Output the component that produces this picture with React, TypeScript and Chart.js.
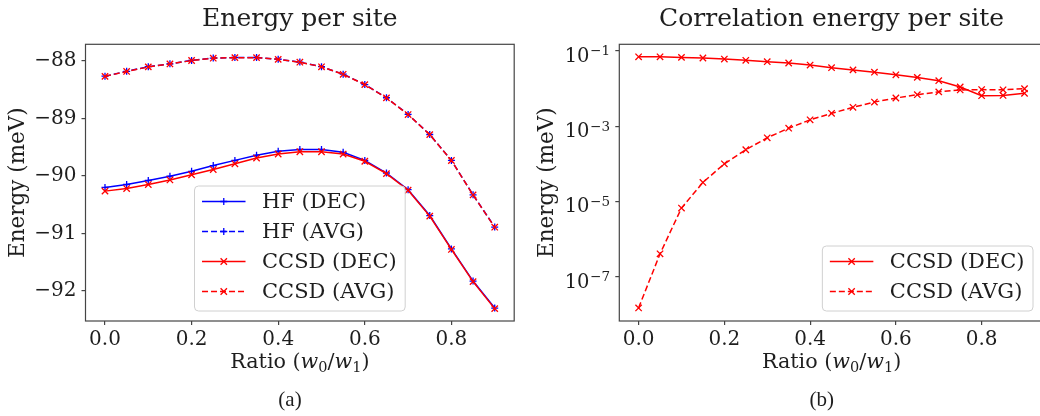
import React, { useEffect, useRef } from "react";
import { Chart, registerables } from "chart.js";

Chart.register(...registerables);

// ---------- data ----------
const ratios = [0, 0.05, 0.1, 0.15, 0.2, 0.25, 0.3, 0.35, 0.4, 0.45, 0.5, 0.55, 0.6, 0.65, 0.7, 0.75, 0.8, 0.85, 0.9];

const hfDec = [-90.2, -90.15, -90.08, -90.005, -89.92, -89.82, -89.73, -89.64, -89.57, -89.54, -89.54, -89.59, -89.73, -89.95, -90.24, -90.69, -91.27, -91.83, -92.3];
const hfAvg = [-88.265, -88.18, -88.1, -88.05, -87.99, -87.95, -87.94, -87.94, -87.97, -88.02, -88.1, -88.23, -88.41, -88.64, -88.93, -89.28, -89.73, -90.33, -90.89];
const ccsdDec = [-90.265, -90.22, -90.15, -90.07, -89.98, -89.89, -89.79, -89.69, -89.62, -89.58, -89.58, -89.62, -89.745, -89.96, -90.25, -90.7, -91.28, -91.84, -92.31];
const ccsdAvg = [-88.268, -88.183, -88.103, -88.052, -87.992, -87.952, -87.942, -87.942, -87.972, -88.022, -88.102, -88.232, -88.412, -88.642, -88.932, -89.282, -89.732, -90.332, -90.892];

const corrDec = [0.069, 0.069, 0.0665, 0.064, 0.06, 0.0556, 0.051, 0.0472, 0.0417, 0.0355, 0.031, 0.0269, 0.023, 0.0196, 0.016, 0.0109, 0.0064, 0.0065, 0.0074];
const corrAvg = [1.5e-8, 4.1e-7, 6.7e-6, 3.2e-5, 1.0e-4, 2.36e-4, 4.9e-4, 8.8e-4, 1.47e-3, 2.18e-3, 3.15e-3, 4.35e-3, 5.56e-3, 6.8e-3, 8.1e-3, 9.1e-3, 9.3e-3, 9.2e-3, 9.8e-3];

const xTicks = [0, 0.2, 0.4, 0.6, 0.8];
const leftYTicks = [-92, -91, -90, -89, -88];
const rightYTickExps = [-7, -5, -3, -1];

const leftTitle = "Energy per site";
const rightTitle = "Correlation energy per site";
const yTitle = "Energy (meV)";
const xTitleParts = [
  { t: "Ratio (", kind: "n" },
  { t: "w", kind: "i" },
  { t: "0", kind: "s" },
  { t: "/", kind: "n" },
  { t: "w", kind: "i" },
  { t: "1", kind: "s" },
  { t: ")", kind: "n" },
];
const captions = ["(a)", "(b)"];

// ---------- styles ----------
const SERIF = "'DejaVu Serif', serif";
const AXIS = "#454545";
const TEXT = "#1e1e1e";
const BLUE = "#0000ff";
const RED = "#ff0000";
const DASH = [6, 3];
const LEGEND_FONT = 21;

function drawXTitle(ctx: CanvasRenderingContext2D, cx: number, baseline: number) {
  const big = 20.7;
  const small = 14.5;
  const fontOf = (k: string) =>
    k === "i" ? `italic ${big}px ${SERIF}` : k === "s" ? `${small}px ${SERIF}` : `${big}px ${SERIF}`;
  let total = 0;
  const widths = xTitleParts.map((p) => {
    ctx.font = fontOf(p.kind);
    const w = ctx.measureText(p.t).width;
    total += w;
    return w;
  });
  let x = cx - total / 2;
  ctx.textAlign = "left";
  ctx.textBaseline = "alphabetic";
  ctx.fillStyle = TEXT;
  xTitleParts.forEach((p, i) => {
    ctx.font = fontOf(p.kind);
    ctx.fillText(p.t, x, baseline + (p.kind === "s" ? 4 : 0));
    x += widths[i];
  });
}

function drawMarker(ctx: CanvasRenderingContext2D, style: string, x: number, y: number, r: number) {
  ctx.beginPath();
  if (style === "cross") {
    ctx.moveTo(x - r, y);
    ctx.lineTo(x + r, y);
    ctx.moveTo(x, y - r);
    ctx.lineTo(x, y + r);
  } else {
    const d = r * Math.SQRT1_2;
    ctx.moveTo(x - d, y - d);
    ctx.lineTo(x + d, y + d);
    ctx.moveTo(x - d, y + d);
    ctx.lineTo(x + d, y - d);
  }
  ctx.stroke();
}

const decorPlugin = {
  id: "decor",
  afterDraw(chart: any, _args: any, opts: any) {
    const ctx: CanvasRenderingContext2D = chart.ctx;
    const ca = chart.chartArea;
    const cx = (ca.left + ca.right) / 2;
    ctx.save();
    // frame
    ctx.strokeStyle = AXIS;
    ctx.lineWidth = 1.2;
    ctx.setLineDash([]);
    ctx.strokeRect(ca.left, ca.top, ca.right - ca.left, ca.bottom - ca.top);
    // title
    ctx.fillStyle = TEXT;
    ctx.font = `25px ${SERIF}`;
    ctx.textAlign = "center";
    ctx.textBaseline = "alphabetic";
    ctx.fillText(opts.title, cx, 26);
    // x title
    drawXTitle(ctx, cx, 367.5);
    // log tick labels
    if (opts.logTicks) {
      const ys = chart.scales.y;
      const xr = ca.left - 9.3;
      ctx.fillStyle = TEXT;
      ctx.textBaseline = "alphabetic";
      ctx.textAlign = "right";
      rightYTickExps.forEach((e) => {
        const y = ys.getPixelForValue(Math.pow(10, e));
        const sup = "\u2212" + String(Math.abs(e));
        ctx.font = `13.5px ${SERIF}`;
        const ws = ctx.measureText(sup).width;
        ctx.fillText(sup, xr, y + 4.5);
        ctx.font = `19.5px ${SERIF}`;
        ctx.fillText("10", xr - ws - 0.6, y + 11);
      });
    }
    // legend
    const ds = chart.data.datasets;
    ctx.font = `${LEGEND_FONT}px ${SERIF}`;
    let maxW = 0;
    ds.forEach((d: any) => {
      maxW = Math.max(maxW, ctx.measureText(d.label).width);
    });
    const bw = 67.5 + maxW + 8.5;
    const bh = ds.length * 30 + 5;
    const bottom = ca.bottom - 10;
    const top = bottom - bh;
    const left = opts.legendPos === "lowerRight" ? ca.right - 10.8 - bw : cx - bw / 2;
    ctx.beginPath();
    const rr = 4;
    ctx.moveTo(left + rr, top);
    ctx.lineTo(left + bw - rr, top);
    ctx.quadraticCurveTo(left + bw, top, left + bw, top + rr);
    ctx.lineTo(left + bw, top + bh - rr);
    ctx.quadraticCurveTo(left + bw, top + bh, left + bw - rr, top + bh);
    ctx.lineTo(left + rr, top + bh);
    ctx.quadraticCurveTo(left, top + bh, left, top + bh - rr);
    ctx.lineTo(left, top + rr);
    ctx.quadraticCurveTo(left, top, left + rr, top);
    ctx.closePath();
    ctx.fillStyle = "rgba(255,255,255,0.8)";
    ctx.fill();
    ctx.strokeStyle = "#d0d0d0";
    ctx.lineWidth = 1;
    ctx.stroke();
    ds.forEach((d: any, i: number) => {
      const y = top + 15.5 + i * 30;
      const x0 = left + 7.5;
      const x1 = left + 51;
      ctx.strokeStyle = d.borderColor;
      ctx.lineWidth = d.borderWidth;
      ctx.setLineDash(d.borderDash || []);
      ctx.beginPath();
      ctx.moveTo(x0, y);
      ctx.lineTo(x1, y);
      ctx.stroke();
      ctx.setLineDash([]);
      ctx.lineWidth = d.pointBorderWidth;
      drawMarker(ctx, d.pointStyle, (x0 + x1) / 2, y, d.pointRadius);
      ctx.fillStyle = TEXT;
      ctx.font = `${LEGEND_FONT}px ${SERIF}`;
      ctx.textAlign = "left";
      ctx.textBaseline = "middle";
      ctx.fillText(d.label, left + 67.5, y + 1);
    });
    ctx.restore();
  },
};

function series(label: string, ys: number[], color: string, dashed: boolean, marker: string, order: number) {
  return {
    label,
    data: ratios.map((r, i) => ({ x: r, y: ys[i] })),
    borderColor: color,
    backgroundColor: color,
    borderWidth: 1.5,
    borderDash: dashed ? DASH : [],
    pointStyle: marker,
    pointRadius: marker === "cross" ? 3.5 : 4.5,
    pointBorderWidth: 1.3,
    pointBorderColor: color,
    pointBackgroundColor: color,
    tension: 0,
    fill: false,
    order,
  };
}

function xScale() {
  return {
    type: "linear",
    min: -0.045,
    max: 0.945,
    afterBuildTicks: (s: any) => {
      s.ticks = xTicks.map((v) => ({ value: v }));
    },
    afterFit: (s: any) => {
      s.height = 60;
    },
    grid: { display: true, drawOnChartArea: false, drawTicks: true, tickLength: 4, color: AXIS, lineWidth: 1.2 },
    border: { display: false },
    ticks: {
      color: TEXT,
      padding: 3,
      maxRotation: 0,
      font: { family: SERIF, size: 20 },
      callback: (v: any) => Number(v).toFixed(1),
    },
    title: { display: false },
  };
}

function baseOptions(pad: any) {
  return {
    responsive: false,
    animation: false,
    layout: { padding: pad },
    plugins: {
      legend: { display: false },
      title: { display: false },
      tooltip: { enabled: false },
    },
    events: [],
  };
}

function useChart(ref: React.RefObject<HTMLCanvasElement>, make: () => any) {
  useEffect(() => {
    if (!ref.current) return;
    const chart = new Chart(ref.current, make());
    return () => chart.destroy();
  }, []);
}

export default function App() {
  const leftRef = useRef<HTMLCanvasElement>(null);
  const rightRef = useRef<HTMLCanvasElement>(null);

  useChart(leftRef, () => ({
    type: "line",
    data: {
      datasets: [
        series("HF (DEC)", hfDec, BLUE, false, "cross", 4),
        series("HF (AVG)", hfAvg, BLUE, true, "cross", 3),
        series("CCSD (DEC)", ccsdDec, RED, false, "crossRot", 2),
        series("CCSD (AVG)", ccsdAvg, RED, true, "crossRot", 1),
      ],
    },
    options: {
      ...baseOptions({ top: 44.3, left: 0, right: 5, bottom: 35 }),
      scales: {
        x: xScale(),
        y: {
          type: "linear",
          min: -92.525,
          max: -87.71,
          afterBuildTicks: (s: any) => {
            s.ticks = leftYTicks.map((v) => ({ value: v }));
          },
          afterFit: (s: any) => {
            s.width = 85.5;
          },
          grid: { display: true, drawOnChartArea: false, drawTicks: true, tickLength: 4, color: AXIS, lineWidth: 1.2 },
          border: { display: false },
          ticks: {
            color: TEXT,
            padding: 5,
            font: { family: SERIF, size: 20 },
            callback: (v: any) => (v < 0 ? "\u2212" : "") + String(Math.abs(v)),
          },
          title: {
            display: true,
            text: yTitle,
            color: TEXT,
            font: { family: SERIF, size: 21.5 },
            padding: { top: 6, bottom: 0 },
          },
        },
      },
      plugins: {
        ...baseOptions({}).plugins,
        decor: { title: leftTitle, legendPos: "lowerCenter", logTicks: false },
      },
    },
    plugins: [decorPlugin],
  }));

  useChart(rightRef, () => ({
    type: "line",
    data: {
      datasets: [
        series("CCSD (DEC)", corrDec, RED, false, "crossRot", 2),
        series("CCSD (AVG)", corrAvg, RED, true, "crossRot", 1),
      ],
    },
    options: {
      ...baseOptions({ top: 44.3, left: 0, right: 16.2, bottom: 35 }),
      scales: {
        x: xScale(),
        y: {
          type: "logarithmic",
          min: Math.pow(10, -8.17),
          max: Math.pow(10, -0.83),
          afterBuildTicks: (s: any) => {
            s.ticks = rightYTickExps.map((e) => ({ value: Math.pow(10, e) }));
          },
          afterFit: (s: any) => {
            s.width = 99.3;
          },
          grid: { display: true, drawOnChartArea: false, drawTicks: true, tickLength: 4, color: AXIS, lineWidth: 1.2 },
          border: { display: false },
          ticks: {
            color: "rgba(0,0,0,0)",
            padding: 5,
            font: { family: SERIF, size: 19 },
            callback: () => "10",
          },
          title: {
            display: true,
            text: yTitle,
            color: TEXT,
            font: { family: SERIF, size: 21.5 },
            padding: { top: 15, bottom: 0 },
          },
        },
      },
      plugins: {
        ...baseOptions({}).plugins,
        decor: { title: rightTitle, legendPos: "lowerRight", logTicks: true },
      },
    },
    plugins: [decorPlugin],
  }));

  const capStyle = (cx: number): React.CSSProperties => ({
    position: "absolute",
    left: cx - 40,
    width: 80,
    top: 389,
    textAlign: "center",
    fontFamily: "'Liberation Serif', 'Times New Roman', serif",
    fontSize: 21,
    lineHeight: "20px",
    color: TEXT,
  });

  return (
    <div
      style={{
        position: "fixed",
        left: 0,
        top: 0,
        width: 1040,
        height: 416,
        overflow: "hidden",
        background: "#ffffff",
      }}
    >
      <canvas ref={leftRef} width={520} height={416} style={{ position: "absolute", left: 0, top: 0, width: 520, height: 416 }} />
      <canvas ref={rightRef} width={540} height={416} style={{ position: "absolute", left: 520, top: 0, width: 540, height: 416 }} />
      <div style={capStyle(290)}>{captions[0]}</div>
      <div style={capStyle(821.7)}>{captions[1]}</div>
    </div>
  );
}
